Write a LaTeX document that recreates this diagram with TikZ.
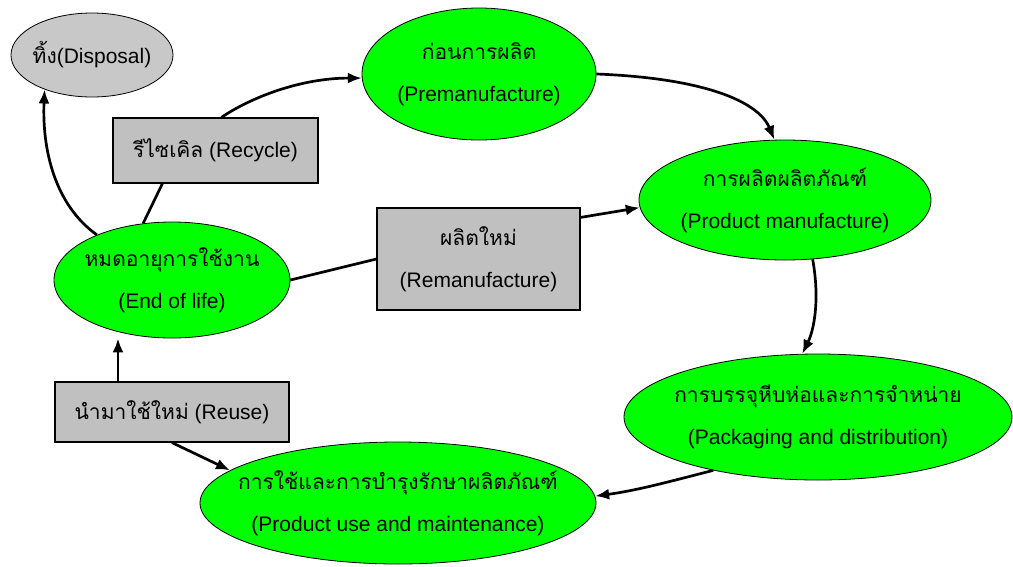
\documentclass[tikz,border=0pt]{standalone}
\usepackage{fontspec}
\setmainfont{Liberation Sans}
\newfontfamily\thai[Script=Thai]{Loma}
\usetikzlibrary{shapes.geometric,arrows.meta,calc}
\definecolor{boxgray}{HTML}{C0C0C0}
\definecolor{dispgray}{HTML}{C8C8C8}
\begin{document}
\begin{tikzpicture}[x=1pt,y=-1pt,
  txt/.style={font=\fontsize{21}{42}\selectfont, align=center, inner sep=0pt},
  stage/.style={ellipse, draw=black, line width=0.8pt, fill=green, inner sep=0pt},
  dispstyle/.style={ellipse, draw=black, line width=0.8pt, fill=dispgray, inner sep=0pt},
  graybox/.style={txt, rectangle, draw=black, line width=1.2pt, fill=boxgray},
  link/.style={line width=2.7pt},
  arr/.style={line width=2.7pt, -{Latex[length=14pt,width=11pt]}}
]
\useasboundingbox (0,0) rectangle (1013,566);

% ellipses
\node[dispstyle, minimum width=162pt, minimum height=84pt] (disp) at (92,55) {};
\node[txt] (dispT) at (disp) {{\thai ทิ้ง}(Disposal)};
\node[stage, minimum width=234pt, minimum height=132pt] (pre) at (479,74) {};
\node[txt] (preT) at (pre) {{\thai ก่อนการผลิต}\\(Premanufacture)};
\node[stage, minimum width=292pt, minimum height=120pt] (pm) at (785,200) {};
\node[txt] (pmT) at (pm) {{\thai การผลิตผลิตภัณฑ์}\\(Product manufacture)};
\node[stage, minimum width=388pt, minimum height=126pt] (pkg) at (818,417) {};
\node[txt] (pkgT) at (pkg) {{\thai การบรรจุหีบห่อและการจำหน่าย}\\(Packaging and distribution)};
\node[stage, minimum width=396pt, minimum height=122pt] (use) at (398,503) {};
\node[txt] (useT) at (use) {{\thai การใช้และการบำรุงรักษาผลิตภัณฑ์}\\(Product use and maintenance)};
\node[stage, minimum width=236pt, minimum height=116pt] (eol) at (172,280) {};
\node[txt] (eolT) at (eol) {{\thai หมดอายุการใช้งาน}\\(End of life)};

% boxes
\node[graybox, minimum width=205pt, minimum height=65pt] (rec) at (215.5,150.5)
  {{\thai รีไซเคิล} (Recycle)};
\node[graybox, minimum width=203pt, minimum height=102pt] (rem) at (478.5,259)
  {{\thai ผลิตใหม่}\\(Remanufacture)};
\node[graybox, minimum width=234pt, minimum height=60pt] (rus) at (172,412)
  {{\thai นำมาใช้ใหม่} (Reuse)};

% connectors
\draw[arr] (eol.149) .. controls (55,205) and (42,150) .. (disp.216);
\draw[link] (eol.117) -- ($(rec.south west)+(50,0)$);
\draw[arr] ($(rec.north west)+(109,0)$) .. controls (250,98) and (300,78) .. (pre.182);
\draw[arr] (pre.0) .. controls (700,78) and (758,100) .. (pm.100);
\draw[link] (eol.east) -- (rem.west);
\draw[arr] ($(rem.north east)+(0,10)$) -- (pm.183);
\draw[arr] (pm.295) .. controls (820,300) and (814,330) .. (pkg.104);
\draw[arr] (pkg.207) .. controls (675,480) and (640,490) .. (use.2);
\coordinate (ru1) at ($(rus.north)+(-54,0)$);
\draw[arr] (ru1) -- (ru1 |- eol.south);
\draw[arr] (rus.south) -- (use.169);
\end{tikzpicture}
\end{document}
